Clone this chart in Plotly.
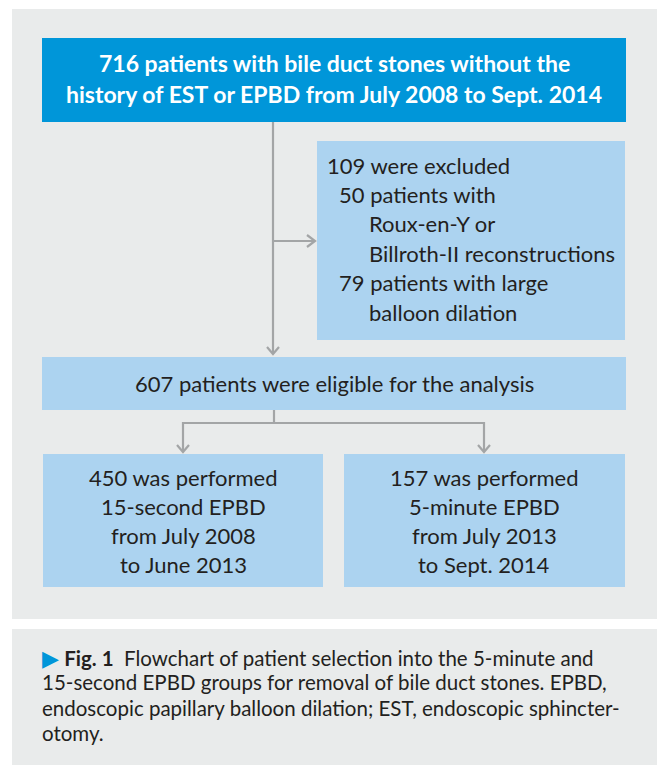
import plotly.graph_objects as go

# ---- data ----
total_text = ["716 patients with bile duct stones without the",
              "history of EST or EPBD from July 2008 to Sept. 2014"]
excluded_lines = ["109 were excluded", "50 patients with", "Roux-en-Y or",
                  "Billroth-II reconstructions", "79 patients with large", "balloon dilation"]
excluded_indent = [0, 1, 2, 2, 1, 2]
eligible_text = "607 patients were eligible for the analysis"
group_15s = ["450 was performed", "15-second EPBD", "from July 2008", "to June 2013"]
group_5m = ["157 was performed", "5-minute EPBD", "from July 2013", "to Sept. 2014"]
caption_lines = ["<b>Fig. 1</b>  Flowchart of patient selection into the 5-minute and",
                 "15-second EPBD groups for removal of bile duct stones. EPBD,",
                 "endoscopic papillary balloon dilation; EST, endoscopic sphincter-",
                 "otomy."]

FONT = "Lato"
GREY_BG = "#e9ebeb"
DARK_BLUE = "#0096d9"
LIGHT_BLUE = "#acd3f0"
LINE = "#a3a5a6"
TXT = "#231f20"

fig = go.Figure()
shapes = []
ann = []

def rect(x0, y0, x1, y1, color):
    shapes.append(dict(type="rect", x0=x0, y0=y0, x1=x1, y1=y1, xref="x", yref="y",
                       fillcolor=color, line=dict(width=0), layer="below"))

def path(pts, width=2.2):
    d = "M " + " L ".join(f"{x},{y}" for x, y in pts)
    shapes.append(dict(type="path", path=d, xref="x", yref="y",
                       line=dict(color=LINE, width=width)))

# panels
rect(12, 9, 657, 619, GREY_BG)
rect(12, 629, 657, 765, GREY_BG)

# boxes
rect(42, 38, 626, 122, DARK_BLUE)
rect(317, 141, 625, 340, LIGHT_BLUE)
rect(42, 357, 626, 410, LIGHT_BLUE)
rect(43, 454, 323, 587, LIGHT_BLUE)
rect(344, 454, 625, 587, LIGHT_BLUE)

# connectors
path([(273, 122), (273, 354)])
path([(267, 347), (273, 354), (279, 347)])
path([(273, 241), (314, 241)])
path([(307, 235), (315, 241), (307, 247)])
path([(274, 410), (274, 423)])
path([(183, 451), (183, 423), (484, 423), (484, 451)])
path([(177, 445), (183, 452), (189, 445)])
path([(478, 445), (484, 452), (490, 445)])

# texts
for i, t in enumerate(total_text):
    ann.append(dict(x=334, y=63 + i * 31, text=f"<b>{t}</b>", showarrow=False,
                    font=dict(family=FONT, size=23, color="white"),
                    xanchor="center", yanchor="middle"))

indent_x = [325, 337, 367]
for i, (t, ind) in enumerate(zip(excluded_lines, excluded_indent)):
    ann.append(dict(x=indent_x[ind], y=165 + i * 29.4, text=t, showarrow=False,
                    font=dict(family=FONT, size=22, color=TXT),
                    xanchor="left", yanchor="middle"))

ann.append(dict(x=334, y=383, text=eligible_text, showarrow=False,
                font=dict(family=FONT, size=22, color=TXT),
                xanchor="center", yanchor="middle"))

for cx, lines in [(183, group_15s), (484, group_5m)]:
    for i, t in enumerate(lines):
        ann.append(dict(x=cx, y=477 + i * 29.2, text=t, showarrow=False,
                        font=dict(family=FONT, size=22, color=TXT),
                        xanchor="center", yanchor="middle"))

for i, t in enumerate(caption_lines):
    prefix = "<span style='color:#0096d9;font-size:22px'>▶</span> " if i == 0 else ""
    ann.append(dict(x=40, y=657 + i * 25.3, text=prefix + t, showarrow=False,
                    font=dict(family=FONT, size=20.5, color=TXT),
                    xanchor="left", yanchor="middle"))

fig.update_layout(
    width=657, height=765,
    margin=dict(l=0, r=0, t=0, b=0),
    paper_bgcolor="white", plot_bgcolor="white",
    xaxis=dict(range=[0, 657], visible=False, fixedrange=True),
    yaxis=dict(range=[765, 0], visible=False, fixedrange=True),
    shapes=shapes, annotations=ann, showlegend=False,
)
fig.write_html("out.html", config={"displayModeBar": False},
               post_script="document.body.style.margin='0px';document.body.style.overflow='hidden';")
